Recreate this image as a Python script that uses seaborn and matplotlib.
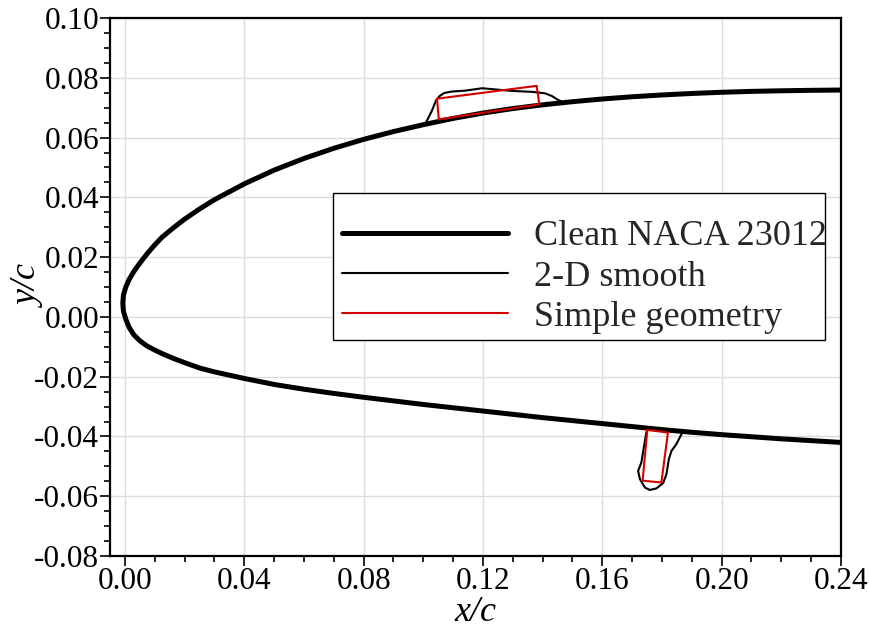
import matplotlib
matplotlib.use("Agg")
import matplotlib.pyplot as plt
from matplotlib.patches import Rectangle
from matplotlib.ticker import MultipleLocator, FormatStrFormatter
import pandas as pd
import seaborn as sns

# NACA 23012 leading-edge contour: upper surface (trailing side -> nose)
upper_x = [0.24, 0.23, 0.22, 0.21, 0.20, 0.19, 0.18, 0.17, 0.16, 0.15, 0.14, 0.13,
           0.12, 0.11, 0.10, 0.09, 0.08, 0.07, 0.06, 0.05, 0.040, 0.030, 0.025,
           0.020, 0.016, 0.0125, 0.0100, 0.0075, 0.0050, 0.0030, 0.0014, 0.0003,
           -0.0005, -0.0007]
upper_y = [0.0759, 0.0758, 0.07565, 0.07545, 0.07515, 0.07475, 0.07425, 0.07365,
           0.0729, 0.0720, 0.07095, 0.0697, 0.0682, 0.0664, 0.0643, 0.0620, 0.0594,
           0.0564, 0.0530, 0.0491, 0.0445, 0.0392, 0.0361, 0.0327, 0.0296, 0.0267,
           0.0241, 0.0212, 0.0180, 0.0152, 0.0125, 0.0100, 0.0073, 0.0046]
# lower surface (nose -> trailing side)
lower_x = [-0.0007, -0.0005, 0.0003, 0.0014, 0.0030, 0.0050, 0.0075, 0.0100, 0.0125,
           0.0165, 0.020, 0.025, 0.030, 0.040, 0.05, 0.06, 0.07, 0.08, 0.09, 0.10,
           0.11, 0.12, 0.13, 0.14, 0.15, 0.16, 0.17, 0.18, 0.19, 0.20, 0.21, 0.22,
           0.23, 0.24]
lower_y = [0.0046, 0.0019, -0.0008, -0.0035, -0.0060, -0.0080, -0.0098, -0.0111, -0.0123,
           -0.0140, -0.0153, -0.0171, -0.0184, -0.0206, -0.0226, -0.0242, -0.0256,
           -0.0269, -0.0281, -0.0293, -0.0304, -0.0315, -0.0326, -0.0337, -0.0347,
           -0.0357, -0.0367, -0.0377, -0.0386, -0.0394, -0.0401, -0.0408, -0.0414,
           -0.0420]

# 2-D smooth ice shapes
ice_up_x = [0.1010, 0.1029, 0.1043, 0.1056, 0.1070, 0.1096, 0.1141, 0.1197, 0.1230,
            0.1297, 0.1364, 0.1408, 0.1431, 0.1450, 0.1466]
ice_up_y = [0.0652, 0.0690, 0.0725, 0.0740, 0.0749, 0.0754, 0.0757, 0.0765, 0.0762,
            0.0756, 0.0753, 0.0748, 0.0739, 0.0727, 0.0719]
ice_lo_x = [0.1748, 0.1740, 0.1731, 0.1720, 0.1726, 0.1743, 0.1759, 0.1781, 0.1804,
            0.1815, 0.1823, 0.1832, 0.1848, 0.1860, 0.1867]
ice_lo_y = [-0.0385, -0.0431, -0.0487, -0.0515, -0.0543, -0.0571, -0.0579, -0.0574, -0.0556,
            -0.0526, -0.0476, -0.0448, -0.0426, -0.0403, -0.0389]

# simple-geometry (rectangular) ice shapes, corner points
rect_up_x = [0.1046, 0.1380, 0.1389, 0.1052, 0.1046]
rect_up_y = [0.0730, 0.0773, 0.0711, 0.0661, 0.0730]
rect_lo_x = [0.1751, 0.1820, 0.1798, 0.1735, 0.1751]
rect_lo_y = [-0.0378, -0.0387, -0.0554, -0.0548, -0.0378]

legend_labels = ["Clean NACA 23012", "2-D smooth", "Simple geometry"]

sns.set_theme(style="whitegrid")
plt.rcParams["font.family"] = ["Liberation Serif", "DejaVu Serif"]
plt.rcParams["axes.unicode_minus"] = False

fig = plt.figure(figsize=(8.7, 6.28), dpi=100)
ax = fig.add_axes([110 / 870, 1 - 556 / 628, (841 - 110) / 870, (556 - 18) / 628])

airfoil = pd.DataFrame({"x": upper_x + lower_x[1:], "y": upper_y + lower_y[1:]})
sns.lineplot(data=airfoil, x="x", y="y", sort=False, estimator=None, ax=ax,
             color="black", linewidth=3.6, label=legend_labels[0], zorder=3)

red = "#d40000"
for i, (xs, ys) in enumerate([(ice_up_x, ice_up_y), (ice_lo_x, ice_lo_y)]):
    sns.lineplot(x=xs, y=ys, sort=False, estimator=None, ax=ax, color="black",
                 linewidth=1.5, label=legend_labels[1] if i == 0 else None, zorder=4)
for i, (xs, ys) in enumerate([(rect_up_x, rect_up_y), (rect_lo_x, rect_lo_y)]):
    sns.lineplot(x=xs, y=ys, sort=False, estimator=None, ax=ax, color=red,
                 linewidth=1.5, label=legend_labels[2] if i == 0 else None, zorder=5)

ax.set_xlim(-0.005, 0.24)
ax.set_ylim(-0.08, 0.10)
ax.xaxis.set_major_locator(MultipleLocator(0.04))
ax.xaxis.set_minor_locator(MultipleLocator(0.01))
ax.yaxis.set_major_locator(MultipleLocator(0.02))
ax.yaxis.set_minor_locator(MultipleLocator(0.005))
ax.xaxis.set_major_formatter(FormatStrFormatter("%.2f"))
ax.yaxis.set_major_formatter(FormatStrFormatter("%.2f"))

ax.grid(True, which="major", color="#dcdcdc", linewidth=1.0)
ax.grid(False, which="minor")
for s in ax.spines.values():
    s.set_color("black")
    s.set_linewidth(1.6)
    s.set_zorder(6)

ax.tick_params(which="both", direction="out", color="black", width=1.2,
               bottom=True, left=True, top=False, right=False)
ax.tick_params(which="major", length=7, labelsize=22.5, pad=1, labelcolor="black")
ax.tick_params(which="minor", length=4.5)

ax.set_xlabel("x/c", fontsize=26, fontstyle="italic", labelpad=0, color="black")
ax.set_ylabel("y/c", fontsize=26, fontstyle="italic", labelpad=-9, color="black")

# legend box drawn as its own patch so the entries can sit low inside it
box = Rectangle((0.3051, 0.4015), 0.6731, 0.2732, transform=ax.transAxes,
                facecolor="white", edgecolor="black", linewidth=1.0, zorder=8)
ax.add_patch(box)

handles, labels = ax.get_legend_handles_labels()
leg = ax.legend(handles, labels, loc="center left", bbox_to_anchor=(0.3174, 0.5186),
                fontsize=26, frameon=False, handlelength=4.6, handletextpad=0.72,
                labelspacing=0.19, borderpad=0, borderaxespad=0)
leg.set_zorder(10)

fig.savefig("out.png", dpi=100)
